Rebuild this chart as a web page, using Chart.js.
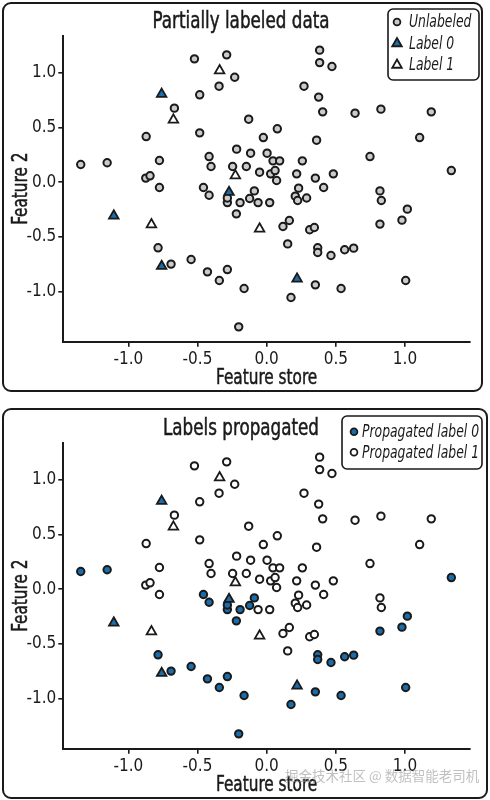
<!DOCTYPE html>
<html>
<head>
<meta charset="utf-8">
<script src="https://cdn.jsdelivr.net/npm/chart.js@4.4.1/dist/chart.umd.min.js"></script>
<style>
  html, body { margin: 0; padding: 0; background: #fff; overflow: hidden; }
  body { width: 490px; height: 800px; position: relative; }
  .panel { position: absolute; box-sizing: border-box; border: 2px solid #1a1a1a; border-radius: 9px; }
  #p1 { left: 2px; top: 2px; width: 481px; height: 390px; }
  #p2 { left: 2px; top: 408px; width: 486px; height: 391px; }
  canvas { position: absolute; left: 0; }
  #c1 { top: 0; }
  #c2 { top: 407px; }
  .mark { position: absolute; left: 285px; top: 769px; font: 13.5px 'Noto Sans CJK SC'; line-height: 1; color: rgba(150,150,150,0.6); white-space: nowrap; }
</style>
</head>
<body>
<div class="panel" id="p1"></div>
<div class="panel" id="p2"></div>
<canvas id="c1" width="490" height="400"></canvas>
<canvas id="c2" width="490" height="400"></canvas>
<div class="mark">掘金技术社区 @ 数据智能老司机</div>
<script>
const xTicks = [-1.0, -0.5, 0.0, 0.5, 1.0];
const yTicks = [-1.0, -0.5, 0.0, 0.5, 1.0];

// unlabeled samples
const featureStore = [
  -1.344, -1.153, -0.871, -0.775, -0.874, -0.843, -0.775, -0.667, -0.522, -0.484,
  -0.484, -0.289, -0.231, -0.344, -0.130, -0.217, -0.416, -0.402, -0.246, -0.147,
  -0.457, -0.416, 0.383, 0.383, 0.472, 0.270, 0.376, 0.405, 0.639, 0.826,
  1.190, 0.077, -0.024, 0.361, 1.106, -0.116, 0.003, 0.046, 0.094, 0.258,
  0.747, -0.051, 0.029, 0.061, 0.072, 0.217, 0.352, 0.482, 0.412, 1.335,
  0.231, 0.207, 0.289, -0.089, -0.123, 0.819, 0.829, -0.284, -0.192, -0.219,
  -0.062, 0.022, 0.224, -0.785, -0.691, -0.546, -0.428, -0.284, -0.342, -0.163,
  -0.202, 1.017, 0.978, 0.819, 0.118, 0.164, 0.311, 0.345, 0.152, 0.369,
  0.369, 0.465, 0.564, 0.629, 0.352, 0.538, 1.005, 0.176, -0.284
];
const feature2 = [
  0.161, 0.177, 0.417, 0.198, 0.037, 0.058, -0.049, 0.677, 1.128, 0.799,
  0.451, 1.165, 0.960, 0.878, 0.576, 0.302, 0.234, 0.143, 0.143, 0.143,
  -0.049, -0.120, 1.208, 1.094, 1.058, 0.878, 0.778, 0.643, 0.631, 0.668,
  0.643, 0.488, 0.408, 0.384, 0.408, 0.265, 0.265, 0.195, 0.195, 0.195,
  0.234, 0.091, 0.076, 0.106, 0.015, 0.076, 0.037, 0.076, -0.049, 0.106,
  -0.055, -0.128, -0.145, -0.080, -0.150, -0.080, -0.168, -0.187, -0.187, -0.290,
  -0.187, -0.187, -0.168, -0.601, -0.750, -0.708, -0.821, -0.800, -0.900, -0.973,
  -1.324, -0.247, -0.348, -0.384, -0.406, -0.351, -0.436, -0.415, -0.565, -0.601,
  -0.644, -0.671, -0.619, -0.604, -0.940, -0.973, -0.900, -1.056, -0.145
];
// label each unlabeled sample got after propagation
const propagated = [
  0, 0, 1, 1, 1, 1, 1, 1, 1, 1,
  1, 1, 1, 1, 1, 1, 1, 1, 1, 1,
  0, 0, 1, 1, 1, 1, 1, 1, 1, 1,
  1, 1, 1, 1, 1, 1, 1, 1, 1, 1,
  1, 1, 1, 1, 1, 1, 1, 1, 1, 0,
  1, 1, 1, 0, 0, 1, 1, 0, 0, 0,
  1, 1, 1, 0, 0, 0, 0, 0, 0, 0,
  0, 0, 0, 0, 1, 1, 1, 1, 1, 0,
  0, 0, 0, 0, 0, 0, 0, 0, 0
];

// hand labeled samples
const label0X = [-0.759, -0.272, -1.105, -0.759, 0.220];
const label0Y = [0.805, -0.092, -0.308, -0.769, -0.885];
const label1X = [-0.674, -0.340, -0.226, -0.833, -0.051];
const label1Y = [0.570, 1.021, 0.060, -0.388, -0.427];

const INK = '#1a1a1a';
const BLUE = '#1b6ca8';
const GRAY = '#cbcbcb';
const FONT = "'DejaVu Sans Condensed', 'DejaVu Sans', sans-serif";
const SQUEEZE = 0.81; // the original uses a narrow face

const pts = (xs, ys) => xs.map((x, i) => ({ x, y: ys[i] }));
const unlabeled = pts(featureStore, feature2);
const prop0 = unlabeled.filter((p, i) => propagated[i] === 0);
const prop1 = unlabeled.filter((p, i) => propagated[i] === 1);

function circles(label, data, fill, order) {
  return { label, data, pointStyle: 'circle', pointRadius: 3.7, pointHoverRadius: 3.7,
    backgroundColor: fill, borderColor: INK, borderWidth: 2, order };
}
function triangles(label, data, fill, order) {
  return { label, data, pointStyle: 'triangle', pointRadius: 5.5, pointHoverRadius: 5.5,
    backgroundColor: fill, borderColor: INK, borderWidth: 1.8, order };
}

function fmt(v) {
  return v.toFixed(1);
}

function scales() {
  return {
    x: {
      type: 'linear', min: -1.47, max: 1.47,
      afterBuildTicks: s => { s.ticks = xTicks.map(v => ({ value: v })); },
      afterFit: s => { s.height = 58.3; },
      grid: { drawOnChartArea: false, drawTicks: true, tickLength: 5, color: INK, lineWidth: 1.6 },
      border: { display: true, color: INK, width: 2 },
      ticks: { color: INK, font: { family: FONT, size: 17 }, padding: 3, maxRotation: 0, callback: fmt }
    },
    y: {
      type: 'linear', min: -1.46, max: 1.34,
      afterBuildTicks: s => { s.ticks = yTicks.map(v => ({ value: v })); },
      afterFit: s => { s.width = 63.3; },
      grid: { drawOnChartArea: false, drawTicks: true, tickLength: 5, color: INK, lineWidth: 1.6 },
      border: { display: true, color: INK, width: 2 },
      ticks: { color: INK, font: { family: FONT, size: 17 }, padding: 2, callback: fmt }
    }
  };
}

function narrowText(ctx, text, x, y, align, angle, heavy) {
  ctx.save();
  ctx.translate(x, y);
  if (angle) ctx.rotate(angle);
  ctx.scale(SQUEEZE, 1);
  ctx.textAlign = align;
  ctx.fillText(text, 0, 0);
  if (heavy) {
    ctx.lineWidth = 0.5;
    ctx.strokeStyle = ctx.fillStyle;
    ctx.strokeText(text, 0, 0);
  }
  ctx.restore();
}

// title, axis titles and boxed legend
const panelDecor = {
  id: 'panelDecor',
  afterDraw(chart, args, opts) {
    const ctx = chart.ctx;
    const area = chart.chartArea;
    ctx.save();
    ctx.fillStyle = INK;
    ctx.textBaseline = 'alphabetic';
    ctx.font = '23px ' + FONT;
    narrowText(ctx, opts.title, 241, 28, 'center', 0, true);
    ctx.font = '21px ' + FONT;
    narrowText(ctx, opts.xTitle, (area.left + area.right) / 2, 384, 'center', 0, true);
    narrowText(ctx, opts.yTitle, 27, (area.top + area.bottom) / 2, 'center', -Math.PI / 2, true);

    const b = opts.box;
    ctx.beginPath();
    if (ctx.roundRect) ctx.roundRect(b.x, b.y, b.w, b.h, 5);
    else ctx.rect(b.x, b.y, b.w, b.h);
    ctx.fillStyle = '#fff';
    ctx.fill();
    ctx.lineWidth = 1.6;
    ctx.strokeStyle = INK;
    ctx.stroke();

    ctx.font = 'italic 17px ' + FONT;
    ctx.textBaseline = 'middle';
    opts.items.forEach((idx, row) => {
      const ds = chart.data.datasets[idx];
      const y = b.y + b.first + row * b.step;
      const r = ds.pointStyle === 'triangle' ? 5.5 : 3.4;
      ctx.fillStyle = ds.backgroundColor;
      ctx.strokeStyle = ds.borderColor;
      ctx.lineWidth = 1.8;
      Chart.helpers.drawPoint(ctx, { pointStyle: ds.pointStyle, radius: r, rotation: 0, borderWidth: 1.8 }, b.x + b.mark, y);
      ctx.fillStyle = INK;
      narrowText(ctx, ds.label, b.x + b.text, y + 1, 'left');
    });
    ctx.restore();
  }
};

function makeChart(id, datasets, title, box, items) {
  return new Chart(document.getElementById(id), {
    type: 'scatter',
    data: { datasets },
    options: {
      responsive: false,
      animation: false,
      devicePixelRatio: 1,
      layout: { padding: { left: 0, top: 35.7, right: 20, bottom: 0 } },
      scales: scales(),
      plugins: {
        legend: { display: false },
        tooltip: { enabled: false },
        panelDecor: { title, box, items, xTitle: 'Feature store', yTitle: 'Feature 2' }
      }
    },
    plugins: [panelDecor]
  });
}

makeChart('c1', [
  triangles('Label 0', pts(label0X, label0Y), BLUE, 0),
  triangles('Label 1', pts(label1X, label1Y), '#ffffff', 1),
  circles('Unlabeled', unlabeled, GRAY, 2)
], 'Partially labeled data',
  { x: 388, y: 9, w: 91, h: 71, first: 13, step: 21.5, mark: 9, text: 21 }, [2, 0, 1]);

makeChart('c2', [
  triangles('Label 0', pts(label0X, label0Y), BLUE, 0),
  triangles('Label 1', pts(label1X, label1Y), '#ffffff', 1),
  circles('Propagated label 0', prop0, BLUE, 2),
  circles('Propagated label 1', prop1, '#ffffff', 3)
], 'Labels propagated',
  { x: 342, y: 9, w: 140, h: 53, first: 15.7, step: 20.6, mark: 12, text: 20 }, [2, 3]);
</script>
</body>
</html>
